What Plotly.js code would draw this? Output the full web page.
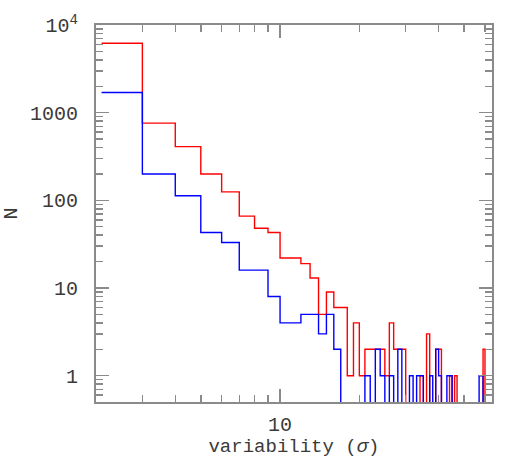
<!DOCTYPE html>
<html><head><meta charset="utf-8">
<script src="https://cdn.plot.ly/plotly-3.0.1.min.js"></script>
<style>html,body{margin:0;padding:0;background:#fff}</style>
</head><body><div id="chart" style="width:518px;height:458px"></div>
<script>
// left edge of each histogram bin (variability, sigma); last edge closes the final bin
const binStarts = [2.1, 3, 4, 5, 6, 7, 8, 9, 10, 11, 12, 13, 14, 15, 16, 17, 18, 19, 20,
  21, 22, 23, 24, 25, 26, 27, 28, 29, 30, 31, 32, 33, 34, 35, 36, 37, 38, 39, 40,
  41, 42, 43, 44, 45, 46, 47, 48, 49, 50, 51, 52, 53, 54, 55, 56, 57, 58, 59, 60,
  61, 62, 63];
const lastEdge = 64;
const redCounts = [6200, 760, 410, 200, 125, 66, 48, 43, 22, 22, 19, 13, 5, 9, 6, 6, 1, 4, 1,
  2, 2, 2, 2, 1, 4, 2, 2, 2, 0, 0, 0, 0, 1, 0, 3, 0, 0, 2, 2,
  0, 0, 0, 1, 0, 1, 0, 0, 0, 0, 0, 0, 0, 0, 0, 0, 0, 0, 2, 0,
  0, 0, 0];
const blueCounts = [1700, 200, 113, 43, 33, 16, 16, 8, 4, 4, 5, 5, 3, 5, 2, 0, 0, 0, 0,
  1, 0, 2, 1, 0, 1, 0, 2, 0, 0, 1, 0, 1, 1, 0, 0, 1, 0, 2, 1,
  0, 0, 1, 1, 0, 0, 0, 0, 0, 0, 0, 0, 0, 0, 0, 0, 1, 1, 0, 0,
  0, 0, 0];
const yTickVals = [1, 10, 100, 1000, 10000];
const yTickText = ['1', '10', '100', '1000', '10<sup>4</sup>'];
const xTickVals = [10];
const xTickText = ['10'];
const xMinor = [3, 4, 5, 6, 7, 8, 9, 20, 30, 40, 50, 60];
const yMinor = [];
[0.1, 1, 10, 100, 1000].forEach(d => { for (let k = 2; k <= 9; k++) yMinor.push(d * k); });

const FLOOR = 0.01; // empty bins drop below the axis
function stepTrace(counts, color) {
  const x = binStarts.concat([lastEdge]);
  const y = counts.map(c => c > 0 ? c : FLOOR);
  y.push(y[y.length - 1]);
  return {x, y, type: 'scatter', mode: 'lines', line: {shape: 'hv', color, width: 1.4},
    hoverinfo: 'skip', showlegend: false};
}
const axisCommon = {
  type: 'log', showgrid: false, zeroline: false, showline: true, linecolor: '#8a8a8a', linewidth: 2,
  mirror: 'allticks', ticks: 'inside', ticklen: 13, tickwidth: 1.5, tickcolor: '#8a8a8a',
  tickmode: 'array', tickfont: {family: 'Liberation Mono', size: 20, color: '#3a3a3a'},
};
const layout = {
  width: 518, height: 458, margin: {l: 96, r: 26, t: 25, b: 56},
  paper_bgcolor: '#fff', plot_bgcolor: '#fff',
  xaxis: Object.assign({}, axisCommon, {
    range: [Math.log10(2), Math.log10(63.8)], tickvals: xTickVals, ticktext: xTickText,
    minor: {tickmode: 'array', tickvals: xMinor, ticks: 'inside', ticklen: 7, tickwidth: 1.5, tickcolor: '#8a8a8a'},
    title: {text: 'variability (<i>σ</i>)', font: {family: 'Liberation Mono', size: 19, color: '#3a3a3a'}, standoff: 11},
    ticklabelstandoff: 3
  }),
  yaxis: Object.assign({}, axisCommon, {
    range: [-0.3, 4], tickvals: yTickVals, ticktext: yTickText,
    minor: {tickmode: 'array', tickvals: yMinor, ticks: 'inside', ticklen: 7, tickwidth: 1.5, tickcolor: '#8a8a8a'},
    title: {text: 'N', font: {family: 'Liberation Mono', size: 20, color: '#3a3a3a'}, standoff: 10},
    ticklabelstandoff: 12
  }),
};
Plotly.newPlot('chart', [stepTrace(redCounts, '#ff0000'), stepTrace(blueCounts, '#0000ff')], layout,
  {displayModeBar: false, staticPlot: true});
</script></body></html>
